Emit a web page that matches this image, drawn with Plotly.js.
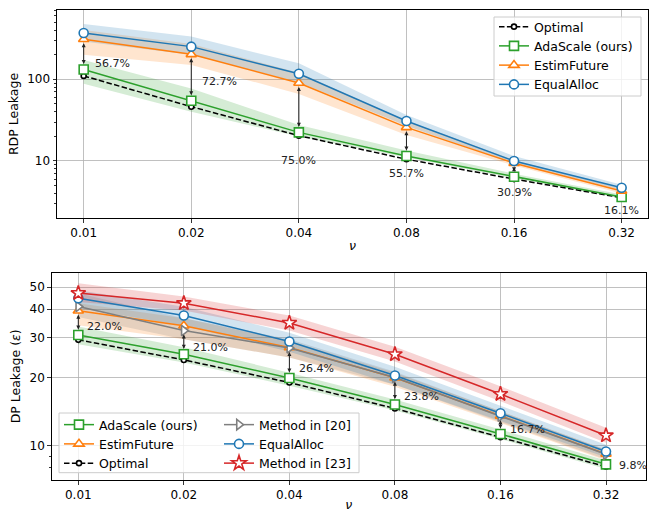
<!DOCTYPE html>
<html>
<head>
<meta charset="utf-8">
<script src="https://cdn.plot.ly/plotly-3.0.1.min.js"></script>
<style>html,body{margin:0;padding:0;background:#fff;}#chart{width:651px;height:512px;}</style>
</head>
<body>
<div id="chart"></div>
<script>
// ---------- data ----------
const nu = [0.01, 0.02, 0.04, 0.08, 0.16, 0.32];
const nuLabels = ['0.01', '0.02', '0.04', '0.08', '0.16', '0.32'];

// top: RDP leakage
const rdpOptimal = [110, 46.2, 20.4, 10.5, 6.0, 3.55];
const rdpAda     = [132, 54.7, 22.4, 11.5, 6.4, 3.62];
const rdpAdaLo   = [88, 40, 19.9, 11.0, 6.1, 3.5];
const rdpAdaHi   = [172, 77, 27.5, 13.4, 7.0, 3.9];
const rdpEstim   = [309, 202, 90, 25.8, 9.4, 4.3];
const rdpEstimLo = [200, 150, 66, 20.8, 8.8, 4.0];
const rdpEstimHi = [400, 270, 120, 31, 10.3, 4.6];
const rdpEqual   = [369, 251, 117, 30.9, 10.0, 4.7];
const rdpEqualLo = [290, 200, 92, 27, 9.3, 4.4];
const rdpEqualHi = [475, 333, 157, 36.6, 11.5, 5.1];
const rdpGainLabels = ['56.7%', '72.7%', '75.0%', '55.7%', '30.9%', '16.1%'];

// bottom: DP leakage
const dpOptimal = [29.3, 23.9, 19.0, 14.6, 10.9, 8.08];
const dpAda     = [30.8, 25.3, 19.9, 15.2, 11.27, 8.28];
const dpAdaLo   = [28, 23.3, 18.4, 14.3, 10.7, 7.9];
const dpAdaHi   = [33.6, 27.2, 21.0, 16.0, 11.8, 8.6];
const dpEstim   = [39.4, 33.8, 27.1, 19.95, 13.55, 9.2];
const dpEstimLo = [34, 29.5, 24.5, 18.2, 12.6, 8.6];
const dpEstimHi = [42.5, 36.5, 29, 21, 14.2, 9.6];
const dpM20     = [41.1, 32.2, 27.0, 20.0, 13.5, 9.17];
const dpM20Lo   = [37, 29.5, 24.5, 18.6, 12.7, 8.7];
const dpM20Hi   = [47, 36.5, 29.5, 21.2, 14.2, 9.6];
const dpEqual   = [44.7, 37.5, 28.8, 20.4, 13.9, 9.44];
const dpEqualLo = [40.5, 33.8, 26.0, 18.6, 12.9, 8.9];
const dpEqualHi = [48.5, 41, 31.5, 22.3, 15.0, 10.1];
const dpM23     = [47.1, 42.5, 34.8, 25.3, 16.9, 11.1];
const dpM23Lo   = [43, 39.5, 32.2, 23.5, 15.7, 10.3];
const dpM23Hi   = [52, 45.5, 37.5, 27.3, 18.3, 12.0];
const dpGainLabels = ['22.0%', '21.0%', '26.4%', '23.8%', '16.7%', '9.8%'];

const rdpMinorTicks = [2,3,4,5,6,7,8,9,20,30,40,50,60,70,80,90,200,300,400,500,600,700];
const dpMinorTicks = [7,8,9];

// ---------- styles ----------
const FONT = 'DejaVu Sans, Arial, sans-serif';
const C = {blue:'#1f77b4', orange:'#ff7f0e', green:'#2ca02c', red:'#d62728', gray:'#7f7f7f', black:'#000000'};
function rgba(hex, a){const n=parseInt(hex.slice(1),16);return `rgba(${n>>16&255},${n>>8&255},${n&255},${a})`;}

// label placement (pixels relative to AdaScale point)
const rdpLabelPos = [[9,6,'left'],[9,19,'left'],[0,-28,'center'],[0,-17,'center'],[0,-16,'center'],[0,-13,'center']];
const dpLabelPos  = [[7,8,'left'],[7,7,'left'],[8,9,'left'],[7,8,'left'],[8,4,'left'],[11,-1,'left']];

const traces = [];
function band(lo, hi, color, xa, ya){
  traces.push({x: nu.concat(nu.slice().reverse()), y: hi.concat(lo.slice().reverse()),
    xaxis: xa, yaxis: ya, type:'scatter', mode:'lines', fill:'toself',
    fillcolor: rgba(color, 0.2), line:{width:0, color:'rgba(0,0,0,0)'}, showlegend:false, hoverinfo:'skip'});
}
function series(y, name, color, symbol, size, xa, ya, legend, rank, dash){
  traces.push({x: nu, y: y, name: name, xaxis: xa, yaxis: ya, type:'scatter', mode:'lines+markers',
    line:{color: color, width:1.5, dash: dash || 'solid'},
    marker:{symbol: symbol, size: size, color:'#ffffff', line:{color: color, width:1.6}},
    legend: legend, legendrank: rank, showlegend:true});
}

// top bands
band(rdpAdaLo, rdpAdaHi, C.green, 'x', 'y');
band(rdpEstimLo, rdpEstimHi, C.orange, 'x', 'y');
band(rdpEqualLo, rdpEqualHi, C.blue, 'x', 'y');
// top lines
series(rdpOptimal, 'Optimal', C.black, 'circle', 5, 'x', 'y', 'legend', 1, '5.5px,2.4px');
series(rdpAda, 'AdaScale (ours)', C.green, 'square', 9, 'x', 'y', 'legend', 2);
series(rdpEstim, 'EstimFuture', C.orange, 'triangle-up', 9, 'x', 'y', 'legend', 3);
series(rdpEqual, 'EqualAlloc', C.blue, 'circle', 9, 'x', 'y', 'legend', 4);

// bottom bands
band(dpAdaLo, dpAdaHi, C.green, 'x2', 'y2');
band(dpEstimLo, dpEstimHi, C.orange, 'x2', 'y2');
band(dpM20Lo, dpM20Hi, C.gray, 'x2', 'y2');
band(dpEqualLo, dpEqualHi, C.blue, 'x2', 'y2');
band(dpM23Lo, dpM23Hi, C.red, 'x2', 'y2');
// bottom lines
series(dpOptimal, 'Optimal', C.black, 'circle', 5, 'x2', 'y2', 'legend2', 3, '5.5px,2.4px');
series(dpAda, 'AdaScale (ours)', C.green, 'square', 9, 'x2', 'y2', 'legend2', 1);
series(dpEstim, 'EstimFuture', C.orange, 'triangle-up', 9, 'x2', 'y2', 'legend2', 2);
series(dpM20, 'Method in [20]', C.gray, 'triangle-right', 9, 'x2', 'y2', 'legend3', 1);
series(dpEqual, 'EqualAlloc', C.blue, 'circle', 9, 'x2', 'y2', 'legend3', 2);
series(dpM23, 'Method in [23]', C.red, 'star', 11, 'x2', 'y2', 'legend3', 3);

// annotations: arrows and gain labels
const annotations = [];
function gains(ada, baselines, labels, pos, xr, yr){
  for(let i=0;i<nu.length;i++){
    const base = Math.min.apply(null, baselines.map(b=>b[i]));
    const lx = Math.log10(nu[i]);
    annotations.push({xref:xr, yref:yr, axref:xr, ayref:yr, x:lx, y:Math.log10(base), ax:lx, ay:Math.log10(ada[i]),
      text:'', showarrow:true, arrowside:'end+start', arrowhead:2, startarrowhead:2, arrowsize:0.8, startarrowsize:0.8,
      arrowwidth:1, arrowcolor:'#222', standoff:4, startstandoff:4});
    annotations.push({xref:xr, yref:yr, x:lx, y:Math.log10(ada[i]), text:labels[i], showarrow:false,
      xanchor:pos[i][2], yanchor:'middle', xshift:pos[i][0], yshift:pos[i][1],
      font:{family:FONT, size:11, color:'#222'}});
  }
}
gains(rdpAda, [rdpEstim, rdpEqual], rdpGainLabels, rdpLabelPos, 'x', 'y');
gains(dpAda, [dpEstim, dpM20, dpEqual, dpM23], dpGainLabels, dpLabelPos, 'x2', 'y2');

const W = 651, H = 512;
const axisCommon = {showline:true, linecolor:'#000', linewidth:1, mirror:true, ticks:'outside', ticklen:3.5,
  tickcolor:'#000', tickwidth:0.8, gridcolor:'#b0b0b0', gridwidth:0.8, zeroline:false,
  tickfont:{family:FONT, size:12, color:'#000'}};
const L2 = Math.log10(2);
const xr1 = [Math.log10(nu[0]) - 0.248*L2, Math.log10(nu[5]) + 0.245*L2];
const xr2 = [Math.log10(nu[0]) - 0.252*L2, Math.log10(nu[5]) + 0.379*L2];

const layout = {
  width: W, height: H, margin:{l:0, r:0, t:0, b:0}, paper_bgcolor:'#fff', plot_bgcolor:'#fff',
  hovermode:false, font:{family:FONT, size:12, color:'#000'},
  xaxis: Object.assign({}, axisCommon, {domain:[57/W, 648/W], anchor:'y', type:'log', range:xr1,
    tickmode:'array', tickvals:nu, ticktext:nuLabels,
    title:{text:'<i>ν</i>', font:{family:FONT, size:12.5}, standoff:2}}),
  yaxis: Object.assign({}, axisCommon, {domain:[1-218/H, 1-10/H], anchor:'x', type:'log', range:[0.302, 2.848],
    tickmode:'array', tickvals:[10,100], ticktext:['10','100'],
    minor:{tickmode:'array', tickvals:rdpMinorTicks, ticks:'outside', ticklen:2, tickcolor:'#000', showgrid:false},
    title:{text:'RDP Leakage', font:{family:FONT, size:12.5}, standoff:5}}),
  xaxis2: Object.assign({}, axisCommon, {domain:[51.7/W, 646/W], anchor:'y2', type:'log', range:xr2,
    tickmode:'array', tickvals:nu, ticktext:nuLabels,
    title:{text:'<i>ν</i>', font:{family:FONT, size:12.5}, standoff:2}}),
  yaxis2: Object.assign({}, axisCommon, {domain:[1-480/H, 1-272.7/H], anchor:'x2', type:'log', range:[0.849, 1.763],
    tickmode:'array', tickvals:[10,20,30,40,50], ticktext:['10','20','30','40','50'],
    minor:{tickmode:'array', tickvals:dpMinorTicks, ticks:'outside', ticklen:2, tickcolor:'#000', showgrid:false},
    title:{text:'DP Leakage (<i>ε</i>)', font:{family:FONT, size:12.5}, standoff:6}}),
  legend:{x:494/W, y:1-12/H, xanchor:'left', yanchor:'top', bgcolor:'rgba(0,0,0,0)',
    borderwidth:0, font:{family:FONT, size:12.5, color:'#000'}, traceorder:'normal'},
  legend2:{x:59/W, y:1-410/H, xanchor:'left', yanchor:'top', bgcolor:'rgba(0,0,0,0)', borderwidth:0,
    font:{family:FONT, size:12.5, color:'#000'}, traceorder:'normal'},
  legend3:{x:219/W, y:1-410/H, xanchor:'left', yanchor:'top', bgcolor:'rgba(0,0,0,0)', borderwidth:0,
    font:{family:FONT, size:12.5, color:'#000'}, traceorder:'normal'},
  shapes:[
    {type:'rect', xref:'paper', yref:'paper', x0:494/W, x1:641/W, y0:1-96/H, y1:1-17/H,
      line:{color:'#cccccc', width:1}, fillcolor:'rgba(255,255,255,0.8)', layer:'above'},
    {type:'rect', xref:'paper', yref:'paper', x0:59/W, x1:359/W, y0:1-472.7/H, y1:1-413/H,
      line:{color:'#cccccc', width:1}, fillcolor:'rgba(255,255,255,0.8)', layer:'above'}],
  annotations: annotations
};

Plotly.newPlot('chart', traces, layout, {displayModeBar:false, staticPlot:true});
</script>
</body>
</html>
